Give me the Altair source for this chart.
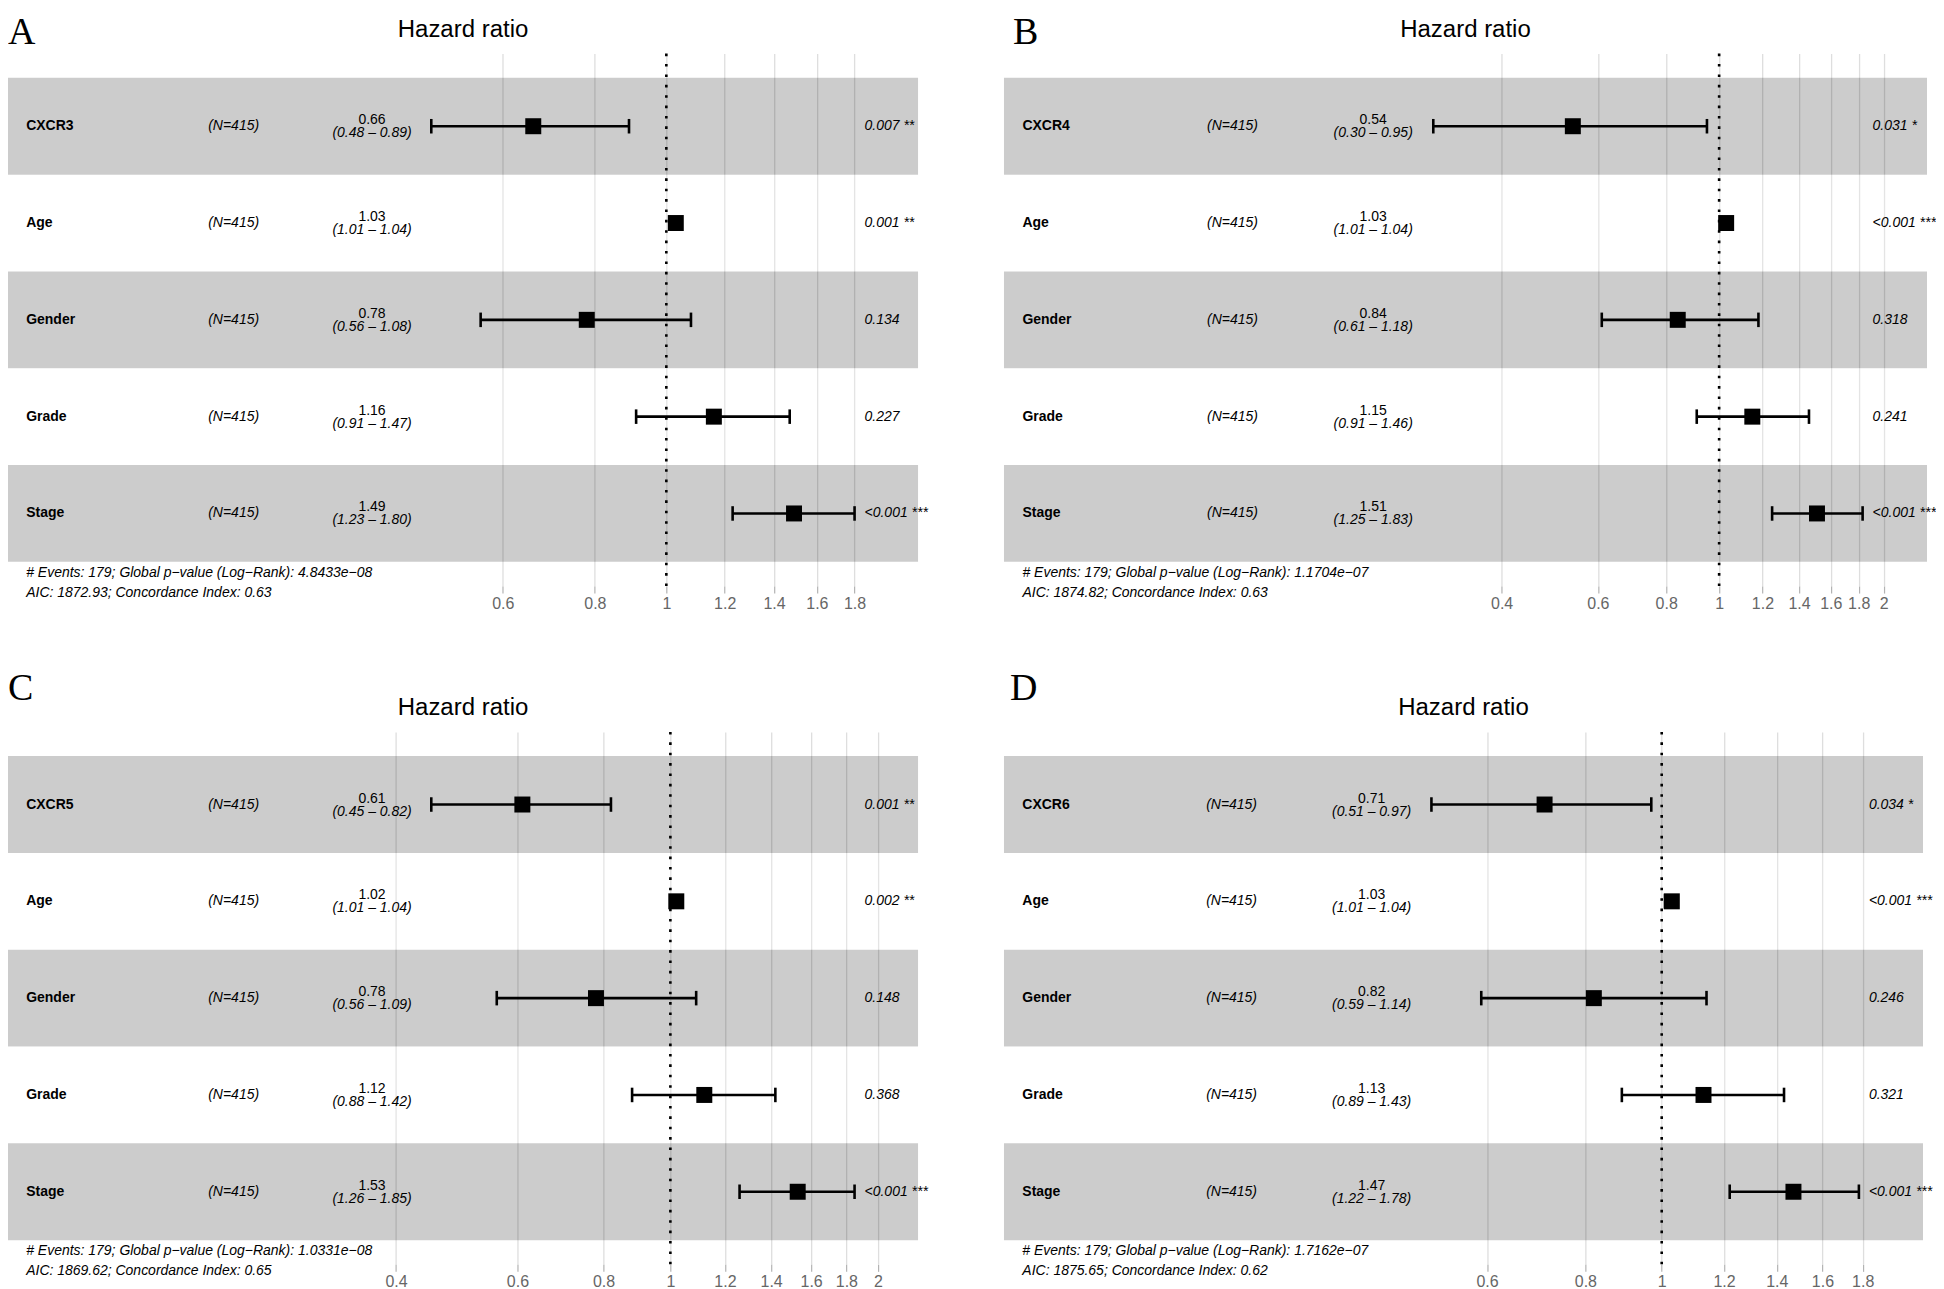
import math
import altair as alt
import pandas as pd

SANS = "Liberation Sans"
SERIF = "Liberation Serif"

# ---------------- data ----------------
var_A = ["CXCR3", "Age", "Gender", "Grade", "Stage"]
n_A = [415, 415, 415, 415, 415]
hr_A = [0.66, 1.03, 0.78, 1.16, 1.49]
lo_A = [0.48, 1.01, 0.56, 0.91, 1.23]
hi_A = [0.89, 1.04, 1.08, 1.47, 1.80]
p_A = ["0.007 **", "0.001 **", "0.134", "0.227", "<0.001 ***"]
ticks_A = [0.6, 0.8, 1, 1.2, 1.4, 1.6, 1.8]
foot_A = ["# Events: 179; Global p\u2212value (Log\u2212Rank): 4.8433e\u221208",
          "AIC: 1872.93; Concordance Index: 0.63"]

var_B = ["CXCR4", "Age", "Gender", "Grade", "Stage"]
n_B = [415, 415, 415, 415, 415]
hr_B = [0.54, 1.03, 0.84, 1.15, 1.51]
lo_B = [0.30, 1.01, 0.61, 0.91, 1.25]
hi_B = [0.95, 1.04, 1.18, 1.46, 1.83]
p_B = ["0.031 *", "<0.001 ***", "0.318", "0.241", "<0.001 ***"]
ticks_B = [0.4, 0.6, 0.8, 1, 1.2, 1.4, 1.6, 1.8, 2]
foot_B = ["# Events: 179; Global p\u2212value (Log\u2212Rank): 1.1704e\u221207",
          "AIC: 1874.82; Concordance Index: 0.63"]

var_C = ["CXCR5", "Age", "Gender", "Grade", "Stage"]
n_C = [415, 415, 415, 415, 415]
hr_C = [0.61, 1.02, 0.78, 1.12, 1.53]
lo_C = [0.45, 1.01, 0.56, 0.88, 1.26]
hi_C = [0.82, 1.04, 1.09, 1.42, 1.85]
p_C = ["0.001 **", "0.002 **", "0.148", "0.368", "<0.001 ***"]
ticks_C = [0.4, 0.6, 0.8, 1, 1.2, 1.4, 1.6, 1.8, 2]
foot_C = ["# Events: 179; Global p\u2212value (Log\u2212Rank): 1.0331e\u221208",
          "AIC: 1869.62; Concordance Index: 0.65"]

var_D = ["CXCR6", "Age", "Gender", "Grade", "Stage"]
n_D = [415, 415, 415, 415, 415]
hr_D = [0.71, 1.03, 0.82, 1.13, 1.47]
lo_D = [0.51, 1.01, 0.59, 0.89, 1.22]
hi_D = [0.97, 1.04, 1.14, 1.43, 1.78]
p_D = ["0.034 *", "<0.001 ***", "0.246", "0.321", "<0.001 ***"]
ticks_D = [0.6, 0.8, 1, 1.2, 1.4, 1.6, 1.8]
foot_D = ["# Events: 179; Global p\u2212value (Log\u2212Rank): 1.7162e\u221207",
          "AIC: 1875.65; Concordance Index: 0.62"]

PANEL_H = 533


def panel(letter, names, ns, hr, lo, hi, pv, ticks, foot, width,
          letter_x, letter_y, title_y):
    # ggforest-style range: twice as wide as the CIs for the annotation columns
    lmin = math.log(min(lo))
    lmax = math.log(max(hi))
    d = lmax - lmin
    r0 = lmin - d
    r1 = lmax + 0.15 * d
    w = r1 - r0
    rows = list(range(1, len(names) + 1))
    df = pd.DataFrame({
        "row": rows,
        "var": names,
        "n": ["(N=%d)" % v for v in ns],
        "est": ["%.2f" % v for v in hr],
        "ci": ["(%.2f \u2013 %.2f)" % (a, b) for a, b in zip(lo, hi)],
        "p": pv,
        "hr": hr,
        "lo": lo,
        "hi": hi,
    })
    df["y0"] = df["row"] - 0.5
    df["y1"] = df["row"] + 0.5
    df["c0"] = df["row"] - 0.075
    df["c1"] = df["row"] + 0.075
    df["bx0"] = math.exp(r0)
    df["bx1"] = math.exp(r1)
    df["x_var"] = math.exp(r0 + 0.02 * w)
    df["x_n"] = math.exp(r0 + 0.22 * w)
    df["x_ci"] = math.exp(r0 + 0.40 * w)
    df["x_st"] = math.exp(lmax)

    fdf = pd.DataFrame({"x": [math.exp(r0 + 0.02 * w)], "y": [len(names) + 0.5],
                        "l1": [foot[0]], "l2": [foot[1]]})
    one = pd.DataFrame({"ref": [1.0]})

    xs = alt.Scale(type="log", domain=[math.exp(r0), math.exp(r1)], nice=False, zero=False)
    ys = alt.Scale(domain=[0.25, len(names) + 0.75], reverse=True, nice=False, zero=False)
    ax = alt.Axis(values=ticks, format="~g", grid=True, gridColor="#DEDEDE",
                  gridWidth=1.3, domain=False, ticks=True, tickColor="#B3B3B3",
                  tickSize=7, tickWidth=1.2, labelColor="#666666",
                  labelFontSize=16, labelFont=SANS, labelPadding=2,
                  labelOverlap=False, labelFlush=False, title=None)

    def X(f):
        return alt.X(f, type="quantitative", scale=xs, axis=ax, title=None)

    def Y(f):
        return alt.Y(f, type="quantitative", scale=ys, axis=None)

    base = alt.Chart(df)

    bands = base.mark_rect(opacity=0.2).encode(
        x=X("bx0"), x2="bx1:Q",
        y=Y("y0"), y2="y1:Q",
        color=alt.condition("datum.row % 2 == 1", alt.value("black"), alt.value("white")),
    )
    bars = base.mark_rule(color="black", strokeWidth=2.6).encode(
        x=X("lo"), x2="hi:Q", y=Y("row"))
    cap_lo = base.mark_rule(color="black", strokeWidth=2.6).encode(
        x=X("lo"), y=Y("c0"), y2="c1:Q")
    cap_hi = base.mark_rule(color="black", strokeWidth=2.6).encode(
        x=X("hi"), y=Y("c0"), y2="c1:Q")
    pts = base.mark_square(size=256, color="black", opacity=1).encode(
        x=X("hr"), y=Y("row"))
    ref = alt.Chart(one).mark_rule(color="black", strokeWidth=2.6,
                                   strokeDash=[2.6, 7.8]).encode(x=X("ref"))

    t_var = base.mark_text(align="left", baseline="middle", font=SANS, fontSize=14,
                           fontWeight="bold", color="black").encode(
        x=X("x_var"), y=Y("row"), text="var:N")
    t_n = base.mark_text(align="left", baseline="middle", font=SANS, fontSize=14,
                         fontStyle="italic", color="black").encode(
        x=X("x_n"), y=Y("row"), text="n:N")
    t_est = base.mark_text(align="center", baseline="middle", font=SANS, fontSize=14,
                           dy=-6, color="black").encode(
        x=X("x_ci"), y=Y("row"), text="est:N")
    t_ci = base.mark_text(align="center", baseline="middle", font=SANS, fontSize=14,
                          fontStyle="italic", dy=7, color="black").encode(
        x=X("x_ci"), y=Y("row"), text="ci:N")
    t_p = base.mark_text(align="left", baseline="middle", font=SANS, fontSize=14,
                         fontStyle="italic", dx=10, color="black").encode(
        x=X("x_st"), y=Y("row"), text="p:N")

    fbase = alt.Chart(fdf)
    f1 = fbase.mark_text(align="left", baseline="middle", font=SANS, fontSize=14,
                         fontStyle="italic", dy=11, color="black").encode(
        x=X("x"), y=Y("y"), text="l1:N")
    f2 = fbase.mark_text(align="left", baseline="middle", font=SANS, fontSize=14,
                         fontStyle="italic", dy=31, color="black").encode(
        x=X("x"), y=Y("y"), text="l2:N")

    title = alt.Chart(one).mark_text(text="Hazard ratio", font=SANS, fontSize=24,
                                     align="center", baseline="middle",
                                     color="black").encode(
        x=alt.value(width / 2), y=alt.value(title_y))
    lab = alt.Chart(one).mark_text(text=letter, font=SERIF, fontSize=38,
                                   align="left", baseline="alphabetic",
                                   color="black").encode(
        x=alt.value(letter_x), y=alt.value(letter_y))

    return alt.layer(bands, bars, cap_lo, cap_hi, pts, ref, t_var, t_n, t_est, t_ci,
                     t_p, f1, f2, title, lab).properties(width=width, height=PANEL_H)


pA = panel("A", var_A, n_A, hr_A, lo_A, hi_A, p_A, ticks_A, foot_A, 911, 0, -10, -24)
pB = panel("B", var_B, n_B, hr_B, lo_B, hi_B, p_B, ticks_B, foot_B, 924, 9, -10, -24)
pC = panel("C", var_C, n_C, hr_C, lo_C, hi_C, p_C, ticks_C, foot_C, 911, 0, -32, -23.5)
pD = panel("D", var_D, n_D, hr_D, lo_D, hi_D, p_D, ticks_D, foot_D, 920, 6, -32, -23.5)

chart = alt.concat(
    pA, pB, pC, pD, columns=2, spacing={"row": 146, "column": 86},
    bounds="flush", align="each",
).configure_view(stroke=None).properties(
    padding={"top": 5, "left": 0, "right": 0, "bottom": 0},
    background="white",
)

chart.save("out.html", embed_options={"renderer": "svg", "actions": False})
